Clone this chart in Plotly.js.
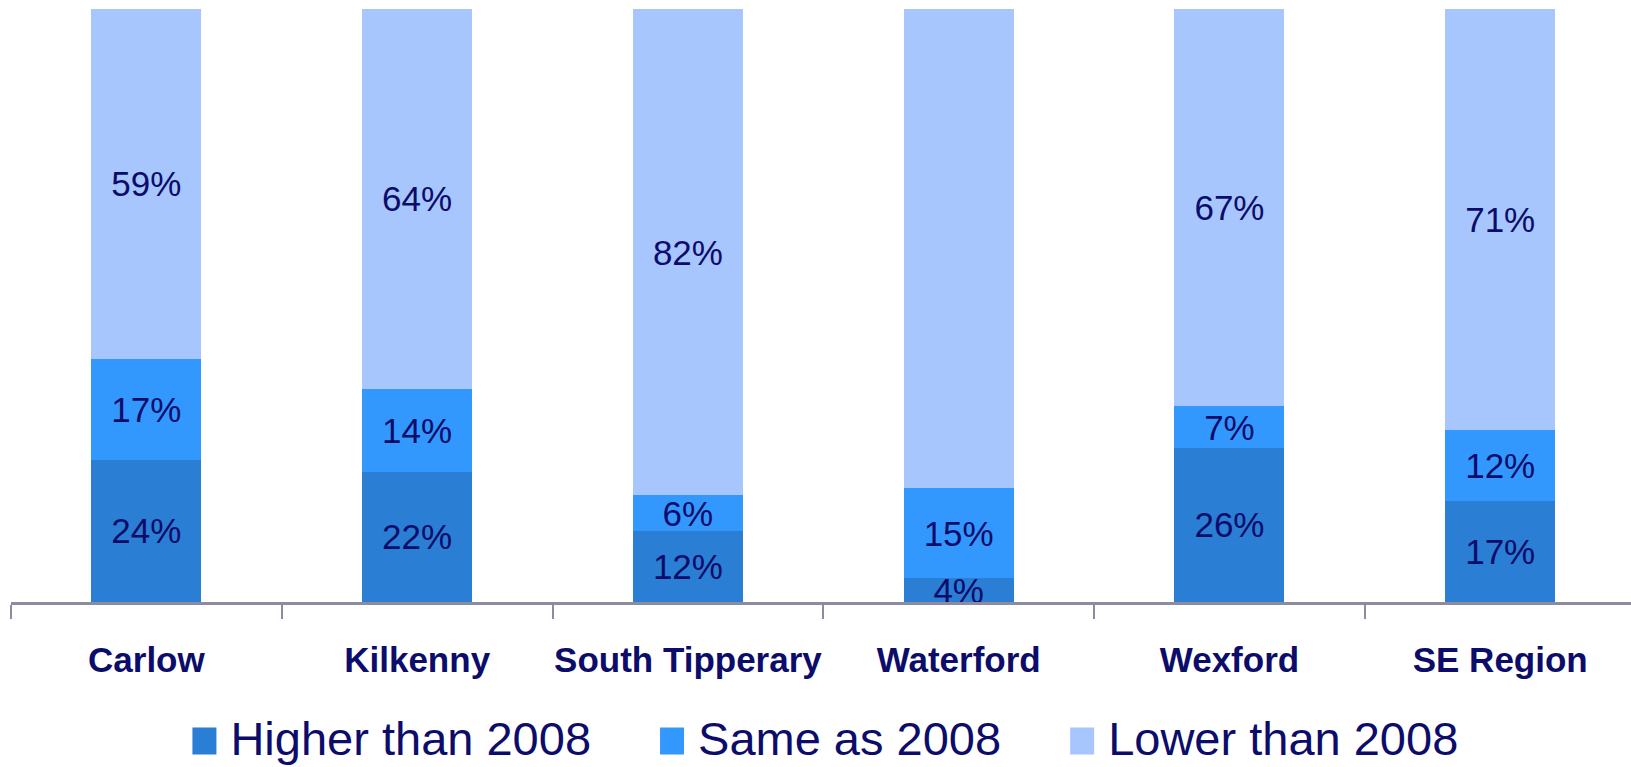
<!DOCTYPE html>
<html>
<head>
<meta charset="utf-8">
<script src="https://cdn.plot.ly/plotly-3.0.1.min.js"></script>
<style>
  html, body { margin: 0; padding: 0; background: #ffffff; overflow: hidden; }
  #chart { width: 1631px; height: 767px; }
</style>
</head>
<body>
<div id="chart"></div>
<script>
// Data
const categories = ["Carlow", "Kilkenny", "South Tipperary", "Waterford", "Wexford", "SE Region"];
const higherThan2008 = [24, 22, 12, 4, 26, 17];
const sameAs2008 = [17, 14, 6, 15, 7, 12];
const lowerThan2008 = [59, 64, 82, 80, 67, 71];
const seriesNames = ["Higher than 2008", "Same as 2008", "Lower than 2008"];

const colors = ["#2a7ed3", "#3398fe", "#a7c6fe"];
const labelColor = "#0c0c6a";
const allSeries = [higherThan2008, sameAs2008, lowerThan2008];
const FONT = "Liberation Sans, Arial, sans-serif";

const traces = allSeries.map((vals, i) => ({
  type: "bar",
  name: seriesNames[i],
  x: categories,
  y: vals,
  text: vals.map(v => v + "%"),
  texttemplate: "%{text}",
  textposition: "inside",
  insidetextanchor: "middle",
  textangle: 0,
  constraintext: "none",
  cliponaxis: false,
  textfont: { family: FONT, size: 35, color: labelColor },
  marker: { color: colors[i], line: { width: 0 } },
  hoverinfo: "skip"
}));

const LEG_FS = 47;
const layout = {
  width: 1631,
  height: 767,
  margin: { l: 11, r: 0, t: 9, b: 165, autoexpand: false },
  paper_bgcolor: "#ffffff",
  plot_bgcolor: "#ffffff",
  barmode: "stack",
  barnorm: "percent",
  bargap: 0.594,
  showlegend: true,
  legend: {
    orientation: "h",
    xref: "container",
    yref: "container",
    x: 0.488,
    xanchor: "center",
    y: 0.0395,
    yanchor: "middle",
    font: { family: FONT, size: LEG_FS, color: labelColor },
    traceorder: "normal",
    itemwidth: 92,
    bgcolor: "rgba(0,0,0,0)"
  },
  xaxis: {
    type: "category",
    range: [-0.5, 5.483],
    showline: true,
    linecolor: "#8c8ca0",
    linewidth: 3,
    ticks: "outside",
    tickson: "boundaries",
    ticklen: 14,
    tickwidth: 2,
    tickcolor: "#8c8ca0",
    tickangle: 0,
    ticklabelstandoff: 25,
    automargin: false,
    showgrid: false,
    zeroline: false,
    tickfont: { family: FONT, size: 35, color: labelColor, weight: "bold" },
    fixedrange: true
  },
  yaxis: {
    visible: false,
    range: [0, 100],
    showgrid: false,
    zeroline: false,
    fixedrange: true
  }
};

const gd = document.getElementById("chart");
Plotly.newPlot(gd, traces, layout, { displayModeBar: false, staticPlot: true }).then(() => {
  // Enlarge the legend swatches to match the reference's square markers
  gd.querySelectorAll(".legend .traces").forEach(item => {
    const text = item.querySelector("text.legendtext");
    const path = item.querySelector(".legendpoints path");
    if (!text || !path) return;
    const inv = item.getCTM().inverse();
    const tm = inv.multiply(text.getCTM());
    const pm = inv.multiply(path.getCTM());
    const tx = parseFloat(text.getAttribute("x")) + tm.e;
    const ty = parseFloat(text.getAttribute("y")) + tm.f;
    const x0 = tx - 38 - pm.e, x1 = tx - 14 - pm.e;
    const y1 = ty - pm.f, y0 = ty - 27 - pm.f;
    path.setAttribute("d", `M${x1},${y1}H${x0}V${y0}H${x1}Z`);
  });
});
</script>
</body>
</html>
